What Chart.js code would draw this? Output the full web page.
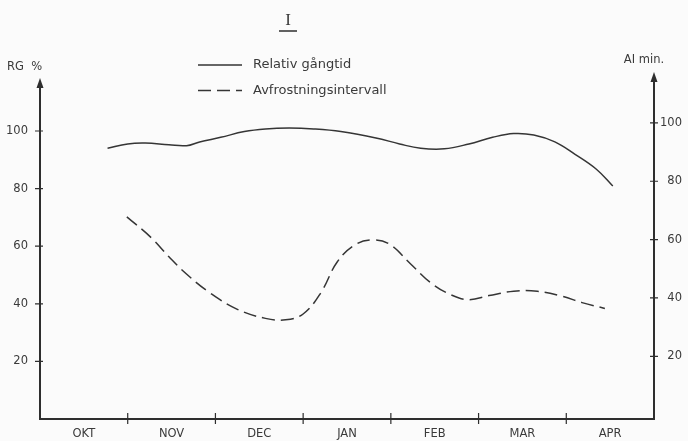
<!DOCTYPE html>
<html>
<head>
<meta charset="utf-8">
<script src="https://cdn.jsdelivr.net/npm/chart.js@4.4.1/dist/chart.umd.min.js"></script>
<style>
  html, body { margin: 0; padding: 0; background: #fbfbfb; }
  #wrap { width: 688px; height: 441px; }
</style>
</head>
<body>
<div id="wrap"><canvas id="chart" width="688" height="441"></canvas></div>
<script>
// Month labels (each label sits in the middle of its month interval)
const months = ['OKT', 'NOV', 'DEC', 'JAN', 'FEB', 'MAR', 'APR'];

// Relativ gångtid, RG % (left axis); x is position in months from start of OKT
const gangtidPos = [0.77, 1.0, 1.2, 1.47, 1.67, 1.82, 2.06, 2.33, 2.57, 2.84, 3.12, 3.43, 3.83, 4.1, 4.34, 4.61, 4.89, 5.16, 5.4, 5.63, 5.87, 6.1, 6.34, 6.53];
const gangtidPct = [94.0, 95.5, 95.8, 95.2, 94.9, 96.2, 97.8, 99.8, 100.7, 101.0, 100.7, 99.8, 97.6, 95.5, 94.0, 93.8, 95.5, 97.8, 99.1, 98.6, 96.2, 91.9, 86.8, 80.9];

// Avfrostningsintervall, AI min. (right axis)
const avfrostPos = [0.99, 1.27, 1.47, 1.67, 1.94, 2.25, 2.57, 2.8, 3.0, 3.2, 3.39, 3.59, 3.79, 3.98, 4.22, 4.45, 4.69, 4.89, 5.12, 5.4, 5.67, 5.95, 6.18, 6.44];
const avfrostMin = [67.8, 60.6, 54.1, 48.2, 41.7, 36.1, 33.0, 32.5, 34.5, 41.7, 52.4, 58.2, 59.9, 58.5, 51.8, 45.3, 41.0, 39.4, 40.8, 42.3, 42.3, 40.6, 38.4, 36.4];

// Axis tick labels
const rgTicks = [20, 40, 60, 80, 100];
const aiTicks = [20, 40, 60, 80, 100];

const INK = '#2e2e2e';
const TEXT = '#3a3a3a';
const FONT = "'DejaVu Sans', sans-serif";

function arrowHead(ctx, x, tipY) {
  ctx.beginPath();
  ctx.moveTo(x, tipY);
  ctx.lineTo(x - 3.5, tipY + 10);
  ctx.lineTo(x + 3.5, tipY + 10);
  ctx.closePath();
  ctx.fill();
}

// Draws the axis frame with arrows, crossing tick marks, axis titles, the title and the legend
const framePlugin = {
  id: 'frame',
  beforeDraw(chart) {
    const { ctx, width, height } = chart;
    ctx.save();
    ctx.fillStyle = '#fbfbfb';
    ctx.fillRect(0, 0, width, height);
    ctx.restore();
  },
  afterDatasetsDraw(chart) {
    const { ctx, chartArea: a, scales } = chart;
    ctx.save();
    ctx.strokeStyle = INK;
    ctx.fillStyle = INK;

    // axis lines
    ctx.lineWidth = 2;
    ctx.beginPath();
    ctx.moveTo(a.left, a.top + 6);
    ctx.lineTo(a.left, a.bottom);
    ctx.lineTo(a.right, a.bottom);
    ctx.lineTo(a.right, a.top);
    ctx.stroke();
    arrowHead(ctx, a.left, a.top);
    arrowHead(ctx, a.right, a.top - 6);

    // tick marks crossing the axes
    ctx.lineWidth = 1.2;
    ctx.beginPath();
    scales.y.ticks.forEach(t => {
      const y = scales.y.getPixelForValue(t.value);
      ctx.moveTo(a.left - 5, y);
      ctx.lineTo(a.left + 3, y);
    });
    scales.y2.ticks.forEach(t => {
      const y = scales.y2.getPixelForValue(t.value);
      ctx.moveTo(a.right - 4, y);
      ctx.lineTo(a.right + 4, y);
    });
    for (let i = 1; i < months.length; i++) {
      const x = scales.x.getPixelForValue(i);
      ctx.moveTo(x, a.bottom - 6);
      ctx.lineTo(x, a.bottom + 5);
    }
    ctx.stroke();

    // axis titles
    ctx.fillStyle = TEXT;
    ctx.font = "11.5px " + FONT;
    ctx.textBaseline = 'middle';
    ctx.textAlign = 'left';
    ctx.fillText('RG  %', 7, 67);
    ctx.textAlign = 'center';
    ctx.fillText('AI min.', 644, 60);

    // title with underline
    ctx.font = "17px 'Liberation Serif', serif";
    ctx.fillText('I', 288, 21);
    ctx.lineWidth = 1.5;
    ctx.beginPath();
    ctx.moveTo(279, 31);
    ctx.lineTo(297, 31);
    ctx.stroke();

    // legend
    ctx.font = "13px " + FONT;
    ctx.textAlign = 'left';
    chart.data.datasets.forEach((ds, i) => {
      const y = 65 + i * 25.5;
      ctx.save();
      ctx.strokeStyle = ds.borderColor;
      ctx.lineWidth = ds.borderWidth;
      ctx.setLineDash(ds.borderDash || []);
      ctx.beginPath();
      ctx.moveTo(198, y);
      ctx.lineTo(242, y);
      ctx.stroke();
      ctx.restore();
      ctx.fillText(ds.label, 253, y);
    });
    ctx.restore();
  }
};

const toPoints = (xs, ys) => xs.map((x, i) => ({ x, y: ys[i] }));
const tickFont = { family: FONT, size: 11.5 };
const noGrid = { display: false, drawTicks: false };

new Chart(document.getElementById('chart'), {
  type: 'line',
  data: {
    datasets: [
      {
        label: 'Relativ gångtid',
        data: toPoints(gangtidPos, gangtidPct),
        yAxisID: 'y',
        borderColor: '#353535',
        borderWidth: 1.5,
        pointRadius: 0,
        tension: 0.4,
        fill: false
      },
      {
        label: 'Avfrostningsintervall',
        data: toPoints(avfrostPos, avfrostMin),
        yAxisID: 'y2',
        borderColor: '#353535',
        borderWidth: 1.5,
        borderDash: [13, 6],
        pointRadius: 0,
        tension: 0.4,
        fill: false
      }
    ]
  },
  options: {
    responsive: false,
    animation: false,
    devicePixelRatio: 1,
    layout: { padding: { top: 78, right: 6, left: 0, bottom: 0 } },
    plugins: {
      legend: { display: false },
      title: { display: false },
      tooltip: { enabled: false }
    },
    scales: {
      x: {
        type: 'linear',
        min: 0,
        max: months.length,
        afterBuildTicks: s => { s.ticks = months.map((m, i) => ({ value: i + 0.5 })); },
        afterFit: s => { s.height = 22; },
        grid: noGrid,
        border: { display: false },
        ticks: {
          autoSkip: false,
          maxRotation: 0,
          padding: 8,
          color: TEXT,
          font: tickFont,
          callback: v => months[Math.floor(v)]
        }
      },
      y: {
        type: 'linear',
        position: 'left',
        min: 0,
        max: 118.4,
        afterBuildTicks: s => { s.ticks = rgTicks.map(v => ({ value: v })); },
        afterFit: s => { s.width = 40; },
        grid: noGrid,
        border: { display: false },
        ticks: { padding: 12, color: TEXT, font: tickFont }
      },
      y2: {
        type: 'linear',
        position: 'right',
        min: -1.5,
        max: 115.4,
        afterBuildTicks: s => { s.ticks = aiTicks.map(v => ({ value: v })); },
        afterFit: s => { s.width = 28; },
        grid: noGrid,
        border: { display: false },
        ticks: { crossAlign: 'far', color: TEXT, font: tickFont }
      }
    }
  },
  plugins: [framePlugin]
});
</script>
</body>
</html>
